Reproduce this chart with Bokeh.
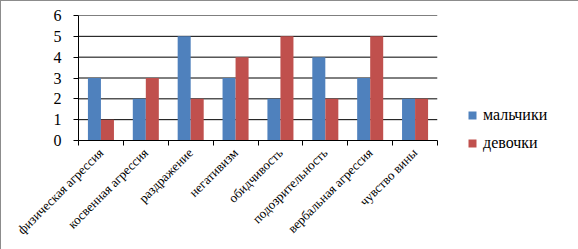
import math
from bokeh.plotting import figure
from bokeh.layouts import row
from bokeh.models import Range1d, FixedTicker, ColumnDataSource, Legend, LegendItem
from bokeh.embed import file_html
from bokeh.resources import INLINE

categories = ["физическая агрессия", "косвенная агрессия", "раздражение", "негативизм",
              "обидчивость", "подозрительность", "вербальная агрессия", "чувство вины"]
boys = [3, 2, 5, 3, 2, 4, 3, 2]
girls = [1, 3, 2, 4, 5, 2, 5, 2]
series_names = ["мальчики", "девочки"]
colors = ["#4F81BD", "#C0504D"]
y_ticks = [0, 1, 2, 3, 4, 5, 6]

BORDER = "1px solid #8c8c8c"
FONT = "'Liberation Serif', 'Times New Roman', serif"
CSS = "text { font-family: 'Liberation Serif', 'Times New Roman', serif; }"
bw = 0.29
n = len(categories)
centers = [i + 0.5 for i in range(n)]

p = figure(width=460, height=249, output_backend="svg", toolbar_location=None,
           x_range=Range1d(0, n), y_range=Range1d(0, 6),
           min_border_left=77, min_border_right=24, min_border_top=14, min_border_bottom=110,
           outline_line_color=None, background_fill_color="white", border_fill_color="white",
           styles={"border-left": BORDER, "border-top": BORDER}, stylesheets=[CSS])

src_b = ColumnDataSource(dict(x=[c - bw / 2 for c in centers], top=boys))
src_g = ColumnDataSource(dict(x=[c + bw / 2 for c in centers], top=girls))

p.segment(x0=0, x1=n, y0=y_ticks[1:], y1=y_ticks[1:], line_color="black", line_width=1)
p.vbar(x="x", top="top", width=bw, source=src_b, fill_color=colors[0], line_color=None)
p.vbar(x="x", top="top", width=bw, source=src_g, fill_color=colors[1], line_color=None)

xa = p.xaxis[0]
xa.bounds = (0, n)
xa.ticker = FixedTicker(ticks=centers, minor_ticks=list(range(n + 1)))
xa.major_label_overrides = {c: name for c, name in zip(centers, categories)}
xa.major_tick_line_color = None
xa.minor_tick_line_color = "black"
xa.minor_tick_in = 0
xa.minor_tick_out = 5
xa.axis_line_color = "black"
xa.major_label_orientation = math.pi / 4
xa.major_label_text_font = FONT
xa.major_label_text_font_size = "13px"
xa.major_label_text_color = "black"
xa.major_label_standoff = 4

ya = p.yaxis[0]
ya.bounds = (0, 6)
ya.ticker = FixedTicker(ticks=y_ticks)
ya.minor_tick_line_color = None
ya.major_tick_in = 0
ya.major_tick_out = 5
ya.major_tick_line_color = "black"
ya.axis_line_color = "black"
ya.major_label_text_font = FONT
ya.major_label_text_font_size = "16px"
ya.major_label_text_color = "black"
ya.major_label_standoff = 12

p.xgrid.grid_line_color = None
p.ygrid.grid_line_color = None

# legend panel (proxy renderers carry a zero-size placeholder bar so the legend swatch is drawn)
lg = figure(width=118, height=249, output_backend="svg", toolbar_location=None,
            x_axis_location=None, y_axis_location=None,
            x_range=Range1d(0, 1), y_range=Range1d(0, 1),
            min_border_left=0, min_border_right=0, min_border_top=14, min_border_bottom=110,
            outline_line_color=None, border_fill_color="white", background_fill_color="white",
            styles={"border-top": BORDER}, stylesheets=[CSS])
lg.grid.visible = False
ghost = lg.vbar(x=[0], top=[0], bottom=[0], width=0, fill_alpha=0, line_alpha=0)
lb = lg.vbar(x=[0], top=[0], bottom=[0], width=0, fill_color=colors[0], line_color=None)
lr = lg.vbar(x=[0], top=[0], bottom=[0], width=0, fill_color=colors[1], line_color=None)

items = [LegendItem(label=" ", renderers=[ghost]) for _ in range(3)]
items += [LegendItem(label=series_names[0], renderers=[lb]),
          LegendItem(label=series_names[1], renderers=[lr])]
legend = Legend(items=items, location="top_left", orientation="vertical",
                glyph_width=10, glyph_height=10, label_height=18, spacing=10,
                label_standoff=6, padding=0, margin=7,
                border_line_color=None, background_fill_alpha=0,
                label_text_font=FONT, label_text_font_size="16px", label_text_color="black")
lg.add_layout(legend, "left")

layout = row(p, lg, spacing=0)
open("out.html", "w").write(file_html(layout, INLINE))
